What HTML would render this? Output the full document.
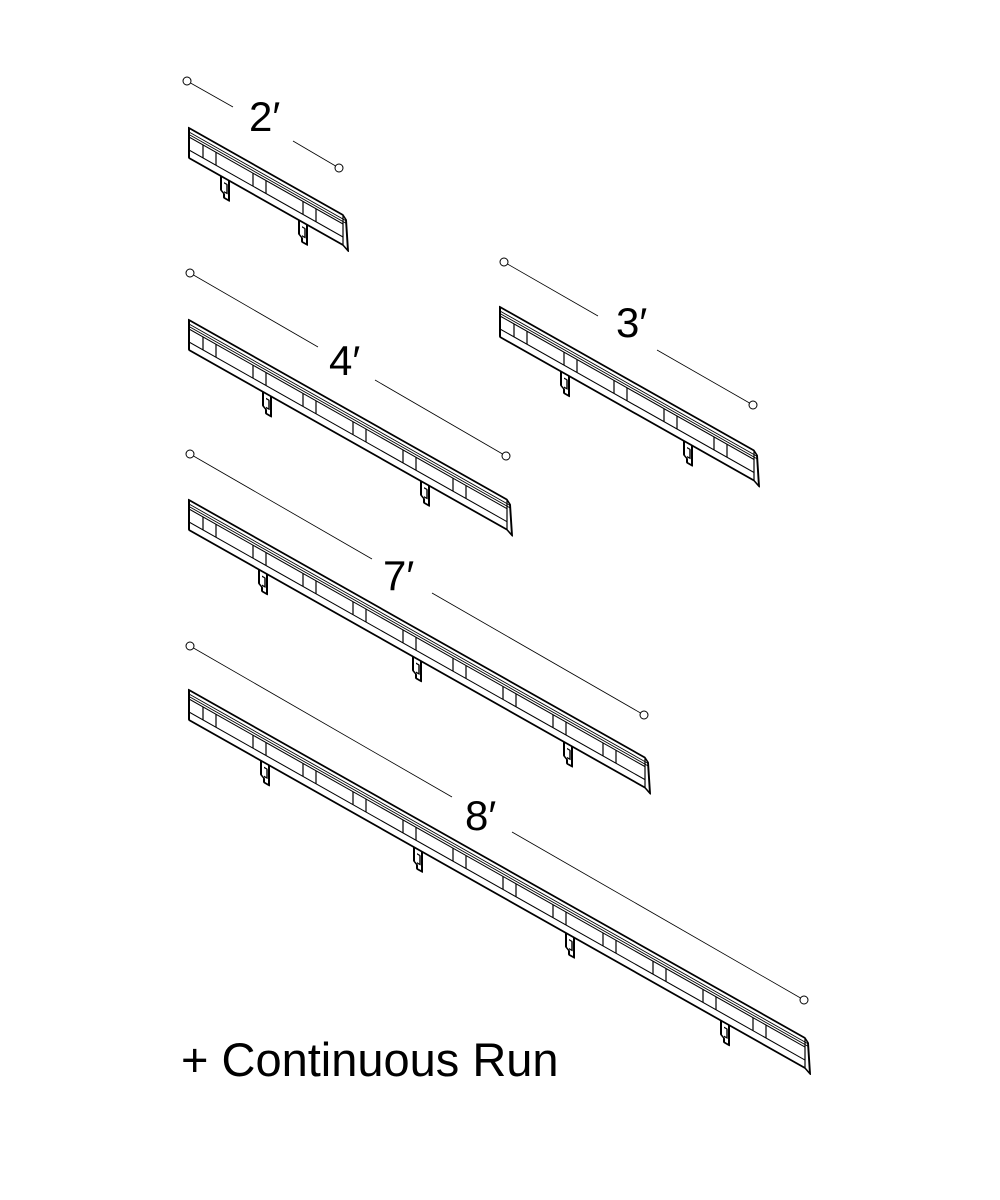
<!DOCTYPE html>
<html><head><meta charset="utf-8"><style>
html,body{margin:0;padding:0;background:#fff}
svg{display:block}
text{font-family:"Liberation Sans",sans-serif;fill:#000}
</style></head><body>
<svg id="s" width="1000" height="1200" viewBox="0 0 1000 1200" xmlns="http://www.w3.org/2000/svg">
<g stroke="#000" stroke-width="0.8" fill="none">
<line x1="187" y1="81" x2="233" y2="107"/><line x1="293" y1="141" x2="339" y2="168"/>
<line x1="190" y1="273" x2="318" y2="347"/><line x1="375" y1="380" x2="506" y2="456"/>
<line x1="504" y1="262" x2="598" y2="316"/><line x1="657" y1="350" x2="753" y2="405"/>
<line x1="190" y1="454" x2="372" y2="559"/><line x1="432" y1="593" x2="644" y2="715"/>
<line x1="190" y1="646" x2="452" y2="797"/><line x1="512" y1="832" x2="804" y2="1000"/>
</g>
<g stroke="#000" stroke-width="1" fill="#fff">
<circle cx="187" cy="81" r="4"/><circle cx="339" cy="168" r="4"/>
<circle cx="190" cy="273" r="4"/><circle cx="506" cy="456" r="4"/>
<circle cx="504" cy="262" r="4"/><circle cx="753" cy="405" r="4"/>
<circle cx="190" cy="454" r="4"/><circle cx="644" cy="715" r="4"/>
<circle cx="190" cy="646" r="4"/><circle cx="804" cy="1000" r="4"/>
</g>
<g font-size="42">
<text x="249" y="131">2′</text>
<text x="329" y="375">4′</text>
<text x="616" y="337">3′</text>
<text x="383" y="590">7′</text>
<text x="465" y="830">8′</text>
<text x="181" y="1076" font-size="47">+ Continuous Run</text>
</g>
<g id="rails"></g>
</svg>
<script>
var rails=[[189,128,154,[36,114]],[189,320,318,[78,236]],[500,307,254,[65,188]],[189,500,456,[74,228,379]],[189,690,616,[76,229,381,536]]];
var k=0.565,out="";
rails.forEach(function(r){
 var x0=r[0],y0=r[1],L=r[2];
 var g='<g transform="matrix(1,'+k+',0,1,'+x0+','+y0+')" stroke="#000" fill="none" stroke-width="1.6" stroke-linejoin="round">';
 r[3].forEach(function(c){
  g+='<path d="M'+(c-4)+',30 L'+(c-4)+',44 L'+(c-1)+',46 L'+(c-1)+',50 L'+(c+4)+',50 L'+(c+4)+',30" fill="#fff" stroke-width="2"/>';
  g+='<path d="M'+(c-1)+',35 L'+(c+2)+',35 L'+(c+2)+',44 L'+(c-1)+',44" stroke-width="1.4"/>';
 });
 g+='<path d="M0,0 L'+L+',0 L'+(L+3)+',3 L'+(L+5)+',33 L'+L+',30 L0,30 Z" fill="#fff" stroke-width="2"/>';
 g+='<line x1="0" y1="4" x2="'+(L+3)+'" y2="4" stroke-width="1"/>';
 g+='<line x1="0" y1="6.5" x2="'+(L+3)+'" y2="6.5" stroke-width="1"/>';
 g+='<line x1="0" y1="9" x2="'+L+'" y2="9" stroke-width="1.2"/>';
 g+='<line x1="0" y1="22" x2="'+L+'" y2="22" stroke-width="1.2"/>';
 g+='<line x1="'+L+'" y1="0" x2="'+L+'" y2="30" stroke-width="1.2"/>';
 for(var p=0;p<L-10;p+=50){
  [14,27].forEach(function(d){var x=p+d;if(x<L-4)g+='<line x1="'+x+'" y1="9" x2="'+x+'" y2="22" stroke-width="1.2"/>';});
 }
 g+='</g>';out+=g;
});
document.getElementById('rails').innerHTML=out;
</script>
</body></html>
